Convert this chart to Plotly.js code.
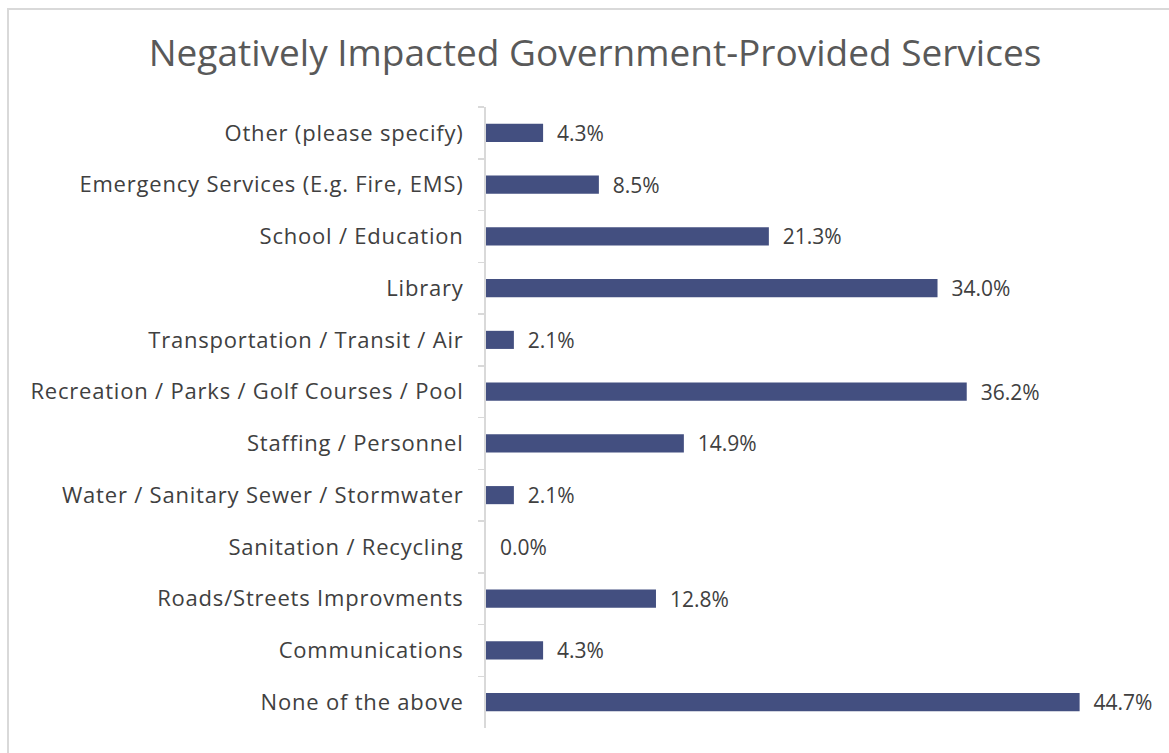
<!DOCTYPE html>
<html>
<head>
<meta charset="utf-8">
<script src="https://cdn.plot.ly/plotly-3.0.1.min.js"></script>
<style>
  html, body { margin: 0; padding: 0; background: #ffffff; }
  #frame { position: absolute; left: 7px; top: 8px; width: 1200px; height: 800px;
           border-top: 2px solid #d9d9d9; border-left: 2px solid #d9d9d9; }
  #chart { position: absolute; left: 0; top: 0; width: 1169px; height: 753px; }
  #chart .ytick text { letter-spacing: 0.8px; }
  #chart .textpoint text { letter-spacing: 0.4px; }
</style>
</head>
<body>
<div id="frame"></div>
<div id="chart"></div>
<script>
const categories = [
  "Other (please specify)",
  "Emergency Services (E.g. Fire, EMS)",
  "School / Education",
  "Library",
  "Transportation / Transit / Air",
  "Recreation / Parks / Golf Courses / Pool",
  "Staffing / Personnel",
  "Water / Sanitary Sewer / Stormwater",
  "Sanitation / Recycling",
  "Roads/Streets Improvments",
  "Communications",
  "None of the above"
];
const values = [4.3, 8.5, 21.3, 34.0, 2.1, 36.2, 14.9, 2.1, 0.0, 12.8, 4.3, 44.7];
const chartTitle = "Negatively Impacted Government-Provided Services";

const fontFamily = "'Open Sans', 'Noto Sans', sans-serif";

const trace = {
  type: "bar",
  orientation: "h",
  y: categories,
  x: values,
  marker: { color: "#434f80" },
  text: values.map(v => "\u00a0\u00a0" + v.toFixed(1) + "%"),
  textposition: "outside",
  constraintext: "none",
  cliponaxis: false,
  textfont: { family: fontFamily, size: 21, color: "#404040" },
  hoverinfo: "skip"
};

const layout = {
  width: 1169,
  height: 753,
  paper_bgcolor: "rgba(0,0,0,0)",
  plot_bgcolor: "rgba(0,0,0,0)",
  margin: { l: 486, r: 19, t: 107, b: 25 },
  bargap: 0.65,
  showlegend: false,
  title: {
    text: chartTitle,
    font: { family: fontFamily, size: 37, color: "#595959" },
    x: 0.509,
    xanchor: "center",
    y: 0.93,
    yanchor: "middle"
  },
  xaxis: {
    range: [0, 50],
    visible: false,
    showgrid: false,
    zeroline: false,
    fixedrange: true
  },
  yaxis: {
    type: "category",
    autorange: "reversed",
    showline: true,
    linecolor: "#d9d9d9",
    linewidth: 2,
    ticks: "outside",
    tickson: "boundaries",
    ticklen: 6,
    tickcolor: "#d9d9d9",
    tickwidth: 1.5,
    ticklabelstandoff: 16,
    tickfont: { family: fontFamily, size: 22, color: "#404040" },
    showgrid: false,
    zeroline: false,
    fixedrange: true
  }
};

Plotly.newPlot("chart", [trace], layout, { displayModeBar: false, staticPlot: true });
</script>
</body>
</html>
